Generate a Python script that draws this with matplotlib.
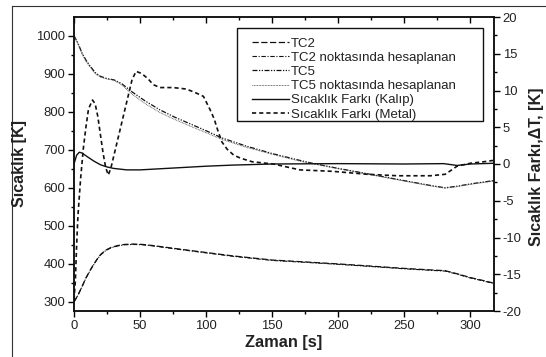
import matplotlib
matplotlib.use('Agg')
import matplotlib.pyplot as plt
from matplotlib.ticker import MultipleLocator
from matplotlib.lines import Line2D
from matplotlib.patches import Rectangle

plt.rcParams['font.family'] = ['Liberation Sans', 'DejaVu Sans']
plt.rcParams['axes.unicode_minus'] = False

# TC5 (upper curves, left axis)
t_tc5 = [0, 3, 6, 9, 12, 16, 20, 25, 30, 36, 44, 54, 65, 76, 88, 100, 112, 130, 150, 171, 181,
         200, 222, 245, 270, 281, 290, 300, 310, 318]
tc5 = [1000, 980, 955, 936, 921, 903, 893, 887, 884, 874, 852, 828, 805, 786, 768, 750, 731,
       710, 690, 672, 664, 651, 637, 622, 606, 600, 604, 610, 615, 619]
tc5_calc = [1000, 978, 952, 933, 918, 900, 891, 886, 883, 871, 846, 821, 798, 780, 762, 745,
            727, 707, 688, 670, 663, 650, 636, 621, 605, 599, 603, 609, 614, 618]

# TC2 (lower curves, left axis)
t_tc2 = [0, 3, 6, 9, 13, 17, 20, 24, 28, 33, 38, 45, 52, 60, 75, 95, 120, 150, 175, 199, 225,
         250, 270, 281, 290, 300, 310, 317]
tc2 = [300, 318, 340, 363, 388, 410, 424, 436, 443, 448, 451, 452, 451, 448, 441, 432, 421,
       410, 405, 400, 394, 388, 384, 382, 374, 364, 356, 350]
tc2_calc = [300, 317, 339, 362, 387, 409, 423, 435, 442, 447, 450, 451, 450, 447, 440, 431,
            420, 409, 404, 399, 393, 387, 383, 381, 373, 363, 355, 349]

# temperature differences (right axis)
t_metal = [0, 1, 2, 3, 5, 7, 9, 11, 14, 16, 18, 20, 22, 24, 26, 28, 32, 36, 40, 44, 47, 50, 52,
           56, 60, 65, 75, 85, 92, 98, 103, 106, 109, 112, 116, 121, 126, 135, 151, 171, 196,
           222, 245, 270, 281, 286, 290, 300, 310, 318]
metal = [-18.5, -16, -11, -7, -2, 2, 5, 7.5, 8.7, 8.2, 6.5, 4, 1.5, -0.5, -1.5, -0.5, 2.5, 5.5,
         8.5, 11.5, 12.6, 12.4, 12.2, 11.6, 10.8, 10.4, 10.4, 10.2, 9.7, 9.2, 7.4, 6.2, 4.5, 3.0,
         2.0, 1.2, 0.8, 0.3, 0, -0.8, -1.0, -1.4, -1.6, -1.6, -1.4, -0.8, -0.3, 0.1, 0.3, 0.5]
t_kalip = [0, 2, 4, 6, 10, 15, 20, 25, 30, 40, 50, 60, 80, 100, 120, 150, 200, 250, 280, 290,
           300, 318]
kalip = [0, 1.2, 1.6, 1.5, 1.0, 0.4, -0.1, -0.4, -0.6, -0.8, -0.8, -0.7, -0.5, -0.3, -0.15, 0,
         0.05, 0.0, 0.05, -0.2, 0.0, 0.1]

labels = ['TC2', 'TC2 noktasında hesaplanan', 'TC5', 'TC5 noktasında hesaplanan',
          'Sıcaklık Farkı (Kalıp)', 'Sıcaklık Farkı (Metal)']

fig = plt.figure(figsize=(5.46, 3.57), dpi=100)
ax = fig.add_axes([74/546, 46/357, 420/546, 294/357])
ax2 = ax.twinx()

k = '#111111'
l1, = ax.plot(t_tc2, tc2, color=k, lw=0.9, dashes=(5, 2), label=labels[0])
l2, = ax.plot(t_tc2, tc2_calc, color=k, lw=0.8, dashes=(4, 1.5, 1, 1.5), label=labels[1])
l3, = ax.plot(t_tc5, tc5, color=k, lw=0.9, dashes=(4, 1.2, 1, 1.2, 1, 1.2), label=labels[2])
l4, = ax.plot(t_tc5, tc5_calc, color='#555555', lw=0.7, dashes=(0.8, 0.8), label=labels[3])
l5, = ax2.plot(t_kalip, kalip, color=k, lw=1.0, label=labels[4])
l6, = ax2.plot(t_metal, metal, color=k, lw=1.2, dashes=(2.5, 1.8), label=labels[5])

ax.set_xlim(0, 318)
ax.set_ylim(276, 1049)
ax2.set_ylim(-20, 20)

ax.xaxis.set_major_locator(MultipleLocator(50))
ax.xaxis.set_minor_locator(MultipleLocator(25))
ax.yaxis.set_major_locator(MultipleLocator(100))
ax.yaxis.set_minor_locator(MultipleLocator(50))
ax2.yaxis.set_major_locator(MultipleLocator(5))
ax2.yaxis.set_minor_locator(MultipleLocator(2.5))

tc = '#222222'
ax.tick_params(axis='both', which='major', direction='out', length=4.3, width=1.0,
               labelsize=9.4, labelcolor=tc, pad=2)
ax.tick_params(axis='both', which='minor', direction='out', length=2.2, width=1.0)
ax.tick_params(axis='x', top=False)
ax2.tick_params(axis='y', which='major', direction='out', length=4.3, width=1.0,
                labelsize=9.4, labelcolor=tc, pad=2)
ax2.tick_params(axis='y', which='minor', direction='out', length=2.2, width=1.0)
ax2.xaxis.set_visible(True)
ax2.tick_params(axis='x', which='both', bottom=False, top=True, labelbottom=False,
                labeltop=False, direction='in', width=1.0)
ax2.tick_params(axis='x', which='major', length=4.3)
ax2.tick_params(axis='x', which='minor', length=2.2)

for a in (ax, ax2):
    for s in a.spines.values():
        s.set_linewidth(1.1)
        s.set_color(k)

fig.text(20/546, 1 - 164/357, 'Sıcaklık [K]', rotation=90, ha='center', va='center',
         fontsize=11.5, fontweight='bold', color=tc)
fig.text(537/546, 1 - 167/357, 'Sıcaklık Farkı,ΔT, [K]', rotation=90, ha='center',
         va='center', fontsize=11.5, fontweight='bold', color=tc)
fig.text(284/546, 1 - 342/357, 'Zaman [s]', ha='center', va='center',
         fontsize=11.8, fontweight='bold', color=tc)

# legend box
ax2.add_patch(Rectangle((0.388, 0.646), 0.586, 0.316, transform=ax2.transAxes,
                        facecolor='white', edgecolor=k, lw=1.0, zorder=4))
leg = ax2.legend([l1, l2, l3, l4, l5, l6], labels, loc='upper left',
                 bbox_to_anchor=(0.424, 0.93), frameon=False, borderpad=0,
                 borderaxespad=0, handlelength=2.8, handletextpad=0.15,
                 labelspacing=0.145, fontsize=9.5)
for t in leg.get_texts():
    t.set_color(tc)
leg.set_zorder(5)

# outer frame
fig.add_artist(Line2D([12/546, 12/546], [0, 1 - 6/357], color='#333333', lw=0.8))
fig.add_artist(Line2D([12/546, 1], [1 - 6/357, 1 - 6/357], color='#333333', lw=0.8))

fig.savefig('out.png', dpi=100)
